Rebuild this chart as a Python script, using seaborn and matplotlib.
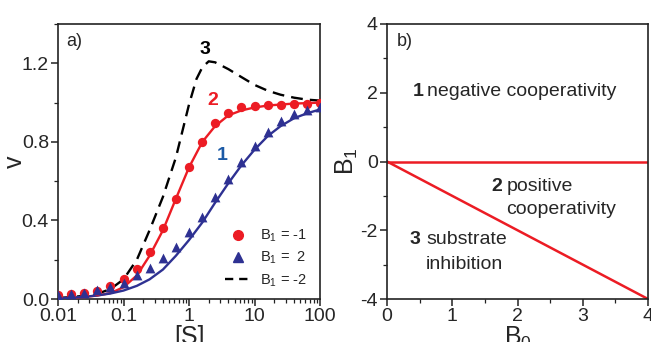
import numpy as np
import pandas as pd
import matplotlib
matplotlib.use("Agg")
import matplotlib.pyplot as plt
import seaborn as sns
from matplotlib.lines import Line2D
from matplotlib.ticker import LogLocator, MultipleLocator, NullFormatter

# ---------------- data ----------------
S_pts = [0.01, 0.016, 0.025, 0.04, 0.063, 0.1, 0.16, 0.25, 0.4, 0.63, 1.0,
         1.6, 2.5, 4.0, 6.3, 10, 16, 25, 40, 63, 100]
v_circles = [0.019, 0.024, 0.03, 0.042, 0.066, 0.10, 0.155, 0.24, 0.36, 0.51, 0.67,
             0.80, 0.895, 0.945, 0.975, 0.985, 0.99, 0.99, 0.995, 0.995, 1.0]
v_triangles = [0.02, 0.025, 0.03, 0.045, 0.06, 0.08, 0.12, 0.16, 0.21, 0.265, 0.34,
               0.42, 0.52, 0.61, 0.70, 0.78, 0.85, 0.905, 0.94, 0.96, 0.975]
v_red_line = [0.003, 0.006, 0.01, 0.018, 0.03, 0.06, 0.12, 0.22, 0.35, 0.51, 0.67,
              0.80, 0.88, 0.935, 0.96, 0.975, 0.985, 0.99, 0.995, 0.997, 1.0]
v_blue_line = [0.004, 0.007, 0.011, 0.018, 0.028, 0.043, 0.067, 0.10, 0.15, 0.22, 0.30,
               0.39, 0.49, 0.59, 0.68, 0.76, 0.83, 0.88, 0.92, 0.945, 0.965]
S_dash = [0.01, 0.016, 0.025, 0.04, 0.063, 0.1, 0.16, 0.25, 0.4, 0.63, 1.0,
          1.3, 1.6, 2.0, 2.5, 4.0, 6.3, 10, 16, 25, 40, 63, 100]
v_dash = [0.005, 0.01, 0.016, 0.027, 0.05, 0.10, 0.20, 0.35, 0.52, 0.72, 0.99,
          1.12, 1.18, 1.21, 1.205, 1.17, 1.13, 1.09, 1.06, 1.04, 1.025, 1.015, 1.01]

legend_labels = ["B$_1$ = -1", "B$_1$ =  2", "B$_1$ = -2"]

B0_line = [0, 4]
B1_zero = [0, 0]
B1_diag = [0, -4]

RED = "#ec1c24"
NAVY = "#2e3192"
BLUE_TXT = "#1c5aa6"

# ---------------- figure ----------------
sns.set_style("ticks")
plt.rcParams['font.family'] = ['Liberation Sans', 'DejaVu Sans']
plt.rcParams['mathtext.fontset'] = 'custom'
plt.rcParams['mathtext.rm'] = 'Liberation Sans'
plt.rcParams['mathtext.it'] = 'Liberation Sans'
plt.rcParams['axes.unicode_minus'] = False

fig = plt.figure(figsize=(6.51, 3.42), dpi=100)
axA = fig.add_axes([58/651, 43/342, 262/651, 275/342])
axB = fig.add_axes([387/651, 43/342, 261/651, 275/342])

dfc = pd.DataFrame({"S": S_pts, "v": v_circles})
dft = pd.DataFrame({"S": S_pts, "v": v_triangles})
dfr = pd.DataFrame({"S": S_pts, "v": v_red_line})
dfb = pd.DataFrame({"S": S_pts, "v": v_blue_line})
dfd = pd.DataFrame({"S": S_dash, "v": v_dash})

sns.lineplot(data=dfd, x="S", y="v", ax=axA, color="black", lw=1.7,
             linestyle=(0, (5, 3)), zorder=2)
sns.lineplot(data=dfr, x="S", y="v", ax=axA, color=RED, lw=1.7, zorder=3)
sns.lineplot(data=dfb, x="S", y="v", ax=axA, color=NAVY, lw=1.7, zorder=3)
sns.scatterplot(data=dfc, x="S", y="v", ax=axA, color=RED, marker="o", s=45,
                edgecolor=RED, linewidth=0, zorder=4)
sns.scatterplot(data=dft, x="S", y="v", ax=axA, color=NAVY, marker="^", s=50,
                edgecolor=NAVY, linewidth=0, zorder=4)

axA.set_xscale("log")
axA.set_xlim(0.01, 100)
axA.set_ylim(0, 1.4)
axA.set_xticks([0.01, 0.1, 1, 10, 100])
axA.set_xticklabels(["0.01", "0.1", "1", "10", "100"])
axA.xaxis.set_minor_locator(LogLocator(base=10, subs=np.arange(2, 10)))
axA.xaxis.set_minor_formatter(NullFormatter())
axA.set_yticks([0.0, 0.4, 0.8, 1.2])
axA.set_yticklabels(["0.0", "0.4", "0.8", "1.2"])
axA.yaxis.set_minor_locator(MultipleLocator(0.2))
axA.set_xlabel("[S]", fontsize=18, labelpad=0)
axA.set_ylabel("v", fontsize=18, labelpad=-4)

axA.text(0.0135, 1.29, "a)", fontsize=13)
axA.text(1.75, 1.27, "3", fontsize=14, fontweight="bold", color="black", ha="center", va="center")
axA.text(2.3, 1.01, "2", fontsize=14, fontweight="bold", color=RED, ha="center", va="center")
axA.text(3.2, 0.73, "1", fontsize=14, fontweight="bold", color=BLUE_TXT, ha="center", va="center")

handles = [Line2D([], [], color=RED, marker="o", linestyle="none", markersize=7),
           Line2D([], [], color=NAVY, marker="^", linestyle="none", markersize=7),
           Line2D([], [], color="black", linestyle=(0, (3.5, 2.5)), lw=1.7)]
axA.legend(handles, legend_labels, loc="lower right", frameon=False, fontsize=10.5,
           handlelength=1.8, handletextpad=0.6, labelspacing=0.4,
           bbox_to_anchor=(1.0, -0.01))

# panel b
sns.lineplot(x=B0_line, y=B1_zero, ax=axB, color=RED, lw=1.8)
sns.lineplot(x=B0_line, y=B1_diag, ax=axB, color=RED, lw=1.8)
axB.set_xlim(0, 4)
axB.set_ylim(-4, 4)
axB.set_xticks([0, 1, 2, 3, 4])
axB.set_yticks([-4, -2, 0, 2, 4])
axB.xaxis.set_minor_locator(MultipleLocator(0.5))
axB.yaxis.set_minor_locator(MultipleLocator(1))
axB.set_xlabel("B$_0$", fontsize=18, labelpad=0)
axB.set_ylabel("B$_1$", fontsize=18, labelpad=0)

fs = 14
axB.text(0.15, 3.5, "b)", fontsize=13, va="center")
axB.text(0.39, 2.05, "1", fontsize=fs, fontweight="bold", va="center")
axB.text(0.61, 2.05, "negative cooperativity", fontsize=fs, va="center")
axB.text(1.6, -0.74, "2", fontsize=fs, fontweight="bold", va="center")
axB.text(1.84, -0.74, "positive", fontsize=fs, va="center")
axB.text(1.82, -1.41, "cooperativity", fontsize=fs, va="center")
axB.text(0.35, -2.28, "3", fontsize=fs, fontweight="bold", va="center")
axB.text(0.6, -2.28, "substrate", fontsize=fs, va="center")
axB.text(0.6, -3.01, "inhibition", fontsize=fs, va="center")

for ax in (axA, axB):
    for sp in ax.spines.values():
        sp.set_visible(True)
        sp.set_linewidth(1.2)
        sp.set_color("#222222")
    ax.tick_params(which="major", direction="out", length=5, width=1.1, labelsize=14,
                   color="#222222", pad=1.5)
    ax.tick_params(which="minor", direction="out", length=3, width=0.9, color="#222222")

fig.savefig("out.png", dpi=100)
